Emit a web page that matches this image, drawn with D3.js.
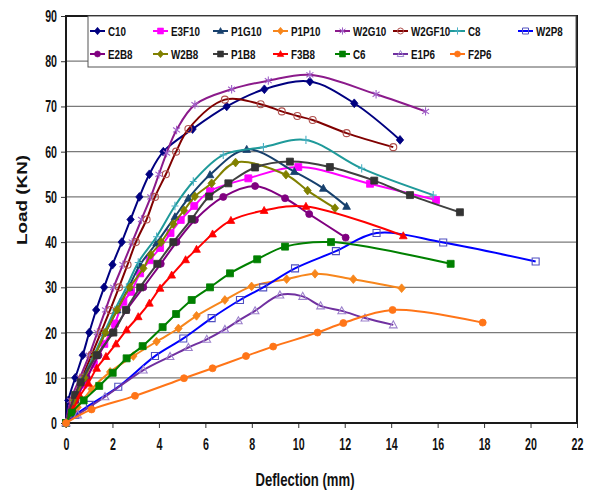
<!DOCTYPE html>
<html>
<head>
<meta charset="utf-8">
<script src="https://cdn.jsdelivr.net/npm/d3@7"></script>
<style>
    body { margin: 0; background: #ffffff; }
    text { font-family: "Liberation Sans", Arial, sans-serif; font-weight: bold; fill: #111; }
</style>
</head>
<body>
<svg id="chart" width="597" height="494"></svg>
<script>
// Load (kN) vs deflection (mm)
const C10    = [[0,0],[0.1,5],[0.4,10],[0.72,15],[1.0,20],[1.3,25],[1.64,30],[2.0,35],[2.4,40],[2.78,45],[3.16,50],[3.59,55],[4.19,60],[5.45,65],[6.92,70],[8.54,73.8],[10.5,75.5],[12.41,70.7],[14.38,62.6]];
const E3F10  = [[0,0],[0.35,4],[0.75,8.5],[1.2,13],[1.65,17.5],[2.1,22],[2.47,26.8],[2.8,29],[3.19,33.1],[3.6,36],[4.05,38.7],[4.5,42],[4.94,44.9],[5.52,48.0],[6.2,51.3],[7.85,54.1],[10.0,56.6],[13.09,52.9],[15.93,49.3]];
const P1G10  = [[0,0],[0.4,5],[0.8,10],[1.25,15],[1.7,20],[2.2,25],[2.7,30],[3.19,35],[3.9,39.8],[4.69,45.6],[5.27,49.7],[6.2,54.9],[7.78,60.5],[9.83,55.6],[11.08,51.9],[12.08,47.9]];
const P1P10  = [[0,0],[0.5,3.5],[1.1,7.5],[1.9,11.3],[2.9,14.8],[3.9,18.0],[4.84,20.9],[5.62,23.7],[6.84,27.2],[7.99,30.2],[9.5,31.8],[10.72,33.0],[12.37,31.8],[14.45,29.8]];
const W2G10  = [[0,0],[0.2,5],[0.6,10],[1.0,15],[1.35,20],[1.7,25],[2.05,30],[2.45,35],[2.85,40],[3.25,45],[3.65,50],[4.0,55],[4.33,59.7],[4.76,64.8],[5.55,70.4],[7.13,73.8],[8.71,75.7],[10.5,77.0],[13.35,72.7],[15.48,68.9]];
const W2GF10 = [[0,0],[0.3,5],[0.7,10],[1.1,15],[1.5,20],[1.9,25],[2.28,30],[2.65,35],[3.01,40],[3.47,45],[3.83,50],[4.3,55],[4.74,60],[5.27,65],[6.84,71.5],[8.38,70.5],[9.29,68.9],[9.96,67.9],[10.62,67.0],[12.08,64.1],[14.09,61.0]];
const C8     = [[0,0],[0.35,5],[0.75,10],[1.2,15],[1.65,20],[2.1,25],[2.6,30],[3.11,35.5],[3.9,41.2],[4.69,48.0],[5.48,53.4],[6.77,59.3],[8.5,61.0],[10.33,62.6],[12.73,56.3],[15.81,50.4]];
const W2P8   = [[0,0],[0.4,1.8],[1.03,4.0],[2.25,8.0],[3.83,14.8],[5.05,18.7],[6.27,23.2],[7.49,27.2],[8.49,30.0],[9.86,34.2],[11.62,38.0],[13.37,42.0],[16.24,39.9],[20.22,35.7]];
const E2B8   = [[0,0],[0.4,5],[0.9,10],[1.4,15],[2.0,20],[2.61,25],[3.33,30],[4.08,35.2],[4.76,40.0],[5.55,44.9],[6.77,50.0],[8.14,52.4],[9.43,49.7],[10.47,46.2],[12.04,41.0]];
const W2B8   = [[0,0],[0.35,5],[0.8,10],[1.25,15],[1.7,20],[2.2,25],[2.75,30],[3.33,34.2],[3.65,37.2],[4.1,40],[4.62,44.0],[5.08,47.0],[5.55,50.1],[6.27,53.0],[7.3,57.6],[9.47,54.9],[10.4,51.4],[11.58,47.5]];
const P1B8   = [[0,0],[0.39,6.2],[0.63,9.0],[1.32,15],[2.04,20],[2.58,25],[3.19,30],[3.93,35.2],[4.62,40],[5.41,45.1],[6.16,50.1],[6.99,53],[8.14,56.5],[9.64,57.8],[11.36,56.6],[13.27,53.6],[14.81,50.4],[16.96,46.6]];
const F3B8   = [[0,0],[0.3,3],[0.6,6],[0.96,8.8],[1.32,12.1],[1.72,14.7],[2.15,17.5],[2.61,20.6],[3.11,23.5],[3.59,26.5],[4.05,29.8],[4.55,32.7],[5.15,36.1],[5.62,38.4],[6.31,41.8],[7.1,44.8],[8.53,47.0],[10.33,47.9],[14.52,41.4]];
const C6     = [[0,0],[0.25,2.3],[0.76,5.0],[1.43,8.2],[2.01,11.1],[2.61,14.3],[3.3,17.0],[4.16,21.2],[4.74,24.1],[5.41,27.2],[6.2,30.0],[7.06,33.1],[8.23,36.2],[9.43,39.0],[11.41,40.0],[16.56,35.2]];
const E1P6   = [[0,0],[0.5,1.8],[1.68,5.8],[3.33,11.7],[4.48,14.7],[5.27,16.7],[6.06,18.5],[6.84,20.7],[7.42,22.6],[8.14,24.8],[9.21,28.3],[10.19,28.0],[10.96,25.9],[11.87,24.8],[12.87,23.2],[14.09,21.7]];
const F2P6   = [[0,0],[1.1,3.0],[2.97,6.0],[5.08,9.9],[6.31,12.1],[7.75,14.8],[8.92,16.9],[10.83,20.0],[11.94,22.1],[14.06,25.0],[17.94,22.2]];

const seriesNames = ['C10','E3F10','P1G10','P1P10','W2G10','W2GF10','C8','W2P8','E2B8','W2B8','P1B8','F3B8','C6','E1P6','F2P6'];
const seriesData  = [C10, E3F10, P1G10, P1P10, W2G10, W2GF10, C8, W2P8, E2B8, W2B8, P1B8, F3B8, C6, E1P6, F2P6];
const xTicks = [0,2,4,6,8,10,12,14,16,18,20,22];
const yTicks = [0,10,20,30,40,50,60,70,80,90];

// line colour, marker shape, marker fill, marker stroke
const styles = {
    C10:    { line: '#000080', shape: 'diamond',  fill: '#000080', stroke: '#000080' },
    E3F10:  { line: '#FF00FF', shape: 'square',   fill: '#FF00FF', stroke: '#FF00FF' },
    P1G10:  { line: '#17406D', shape: 'triangle', fill: '#17406D', stroke: '#17406D' },
    P1P10:  { line: '#F7861C', shape: 'diamond',  fill: '#F7861C', stroke: '#F7861C' },
    W2G10:  { line: '#8B1A8B', shape: 'star',     fill: 'none',    stroke: '#A060C8' },
    W2GF10: { line: '#800000', shape: 'circle',   fill: 'none',    stroke: '#B0504D' },
    C8:     { line: '#1F9A9A', shape: 'plus',     fill: 'none',    stroke: '#4AB0C4' },
    W2P8:   { line: '#0000FF', shape: 'square',   fill: 'none',    stroke: '#5050C0' },
    E2B8:   { line: '#800080', shape: 'circle',   fill: '#800080', stroke: '#800080' },
    W2B8:   { line: '#808000', shape: 'diamond',  fill: '#808000', stroke: '#808000' },
    P1B8:   { line: '#404040', shape: 'square',   fill: '#333333', stroke: '#333333' },
    F3B8:   { line: '#FF0000', shape: 'triangle', fill: '#FF0000', stroke: '#FF0000' },
    C6:     { line: '#008000', shape: 'square',   fill: '#008000', stroke: '#008000' },
    E1P6:   { line: '#7030A0', shape: 'triangle', fill: 'none',    stroke: '#9C80CC' },
    F2P6:   { line: '#FF7518', shape: 'circle',   fill: '#FF7518', stroke: '#FF7518' }
};

const svg = d3.select('#chart');
const plot = { left: 66, right: 577, top: 16, bottom: 423 };

const x = d3.scaleLinear().domain([0, 22]).range([plot.left, plot.right]);
const y = d3.scaleLinear().domain([0, 90]).range([plot.bottom, plot.top]);

function markerPath(shape, s) {
    const h = s / 2;
    switch (shape) {
        case 'diamond':  return `M0,${-h * 1.25}L${h * 1.05},0L0,${h * 1.25}L${-h * 1.05},0Z`;
        case 'square':   return `M${-h},${-h}H${h}V${h}H${-h}Z`;
        case 'triangle': return `M0,${-h * 1.15}L${h * 1.1},${h * 0.85}L${-h * 1.1},${h * 0.85}Z`;
        case 'circle':   return d3.symbol(d3.symbolCircle, Math.PI * h * h)();
        case 'plus':     return `M0,${-h * 1.2}V${h * 1.2}M${-h},0H${h}`;
        case 'star':     return `M0,${-h * 1.2}V${h * 1.2}M${-h},${-h * 0.7}L${h},${h * 0.7}M${-h},${h * 0.7}L${h},${-h * 0.7}`;
    }
}

// Gridlines
svg.append('g')
    .selectAll('line')
    .data(yTicks.filter(d => d > 0 && d < 90))
    .enter()
    .append('line')
    .attr('x1', plot.left).attr('x2', plot.right)
    .attr('y1', d => y(d)).attr('y2', d => y(d))
    .attr('stroke', '#7a7a7a')
    .attr('stroke-width', 1.2);

// Axes
const xAxis = svg.append('g')
    .attr('transform', `translate(0,${plot.bottom})`)
    .call(d3.axisBottom(x).tickValues(xTicks).tickSize(5).tickFormat(d3.format('d')));
const yAxis = svg.append('g')
    .attr('transform', `translate(${plot.left},0)`)
    .call(d3.axisLeft(y).tickValues(yTicks).tickSize(5).tickFormat(d3.format('d')));

[xAxis, yAxis].forEach(ax => {
    ax.select('.domain').remove();
    ax.selectAll('.tick line').attr('stroke', '#333');
    ax.selectAll('.tick text').remove();
});

// Tick labels: narrow and a little tall, like the picture
xAxis.selectAll('.tick')
    .append('text')
    .attr('transform', 'translate(0,27) scale(0.82,1.27)')
    .attr('text-anchor', 'middle')
    .style('font-size', '13px')
    .text(d => d);
yAxis.selectAll('.tick')
    .append('text')
    .attr('transform', 'translate(-9,5.5) scale(0.82,1.27)')
    .attr('text-anchor', 'end')
    .style('font-size', '13px')
    .text(d => d);

// Plot frame
svg.append('rect')
    .attr('x', plot.left).attr('y', plot.top)
    .attr('width', plot.right - plot.left)
    .attr('height', plot.bottom - plot.top)
    .attr('fill', 'none')
    .attr('stroke', '#1a1a1a')
    .attr('stroke-width', 2);

// Series
const line = d3.line()
    .x(d => x(d[0]))
    .y(d => y(d[1]))
    .curve(d3.curveCatmullRom.alpha(0.5));

const seriesLayer = svg.append('g');
seriesNames.forEach((name, i) => {
    const st = styles[name];
    const g = seriesLayer.append('g');
    g.append('path')
        .datum(seriesData[i])
        .attr('d', line)
        .attr('fill', 'none')
        .attr('stroke', st.line)
        .attr('stroke-width', 2);
    g.selectAll('path.mk')
        .data(seriesData[i])
        .enter()
        .append('path')
        .attr('class', 'mk')
        .attr('transform', d => `translate(${x(d[0])},${y(d[1])})`)
        .attr('d', markerPath(st.shape, 7))
        .attr('fill', st.fill)
        .attr('stroke', st.stroke)
        .attr('stroke-width', st.fill === 'none' ? 1.1 : 0.8);
});

// Legend
const legendCols = [90, 153, 213, 273, 335, 393, 450, 518];
const legendRows = [31, 54];

svg.append('rect')
    .attr('x', 88).attr('y', 16)
    .attr('width', 488).attr('height', 51)
    .attr('fill', '#ffffff')
    .attr('stroke', '#555')
    .attr('stroke-width', 1);

const legend = svg.append('g');
seriesNames.forEach((name, i) => {
    const st = styles[name];
    const lx = legendCols[i % 8];
    const ly = legendRows[Math.floor(i / 8)];
    const item = legend.append('g').attr('transform', `translate(${lx},${ly})`);
    item.append('line')
        .attr('x1', 0).attr('x2', 15)
        .attr('stroke', st.line)
        .attr('stroke-width', 2);
    item.append('path')
        .attr('transform', 'translate(7.5,0)')
        .attr('d', markerPath(st.shape, 6))
        .attr('fill', st.fill)
        .attr('stroke', st.stroke)
        .attr('stroke-width', st.fill === 'none' ? 1 : 0.6);
    item.append('text')
        .attr('transform', 'translate(18,4.5) scale(0.82,1.12)')
        .style('font-size', '12px')
        .text(name);
});

// Axis titles
svg.append('text')
    .attr('transform', 'translate(305,486) scale(0.82,1.12)')
    .attr('text-anchor', 'middle')
    .style('font-size', '16px')
    .text('Deflection (mm)');

svg.append('text')
    .attr('transform', 'translate(27,200) scale(1,1.35) rotate(-90)')
    .attr('text-anchor', 'middle')
    .style('font-size', '14px')
    .text('Load (KN)');
</script>
</body>
</html>
